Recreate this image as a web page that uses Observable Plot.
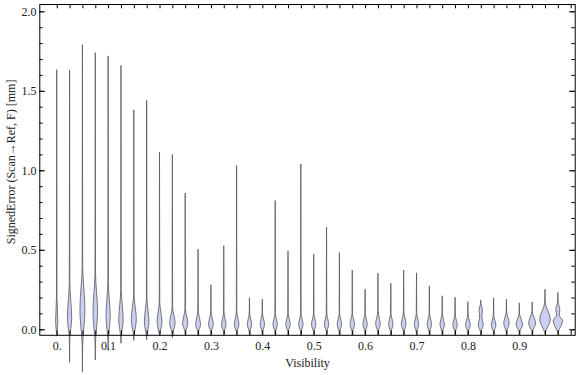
<!DOCTYPE html>
<html><head><meta charset="utf-8">
<script src="https://cdn.jsdelivr.net/npm/d3@7"></script>
<script src="https://cdn.jsdelivr.net/npm/@observablehq/plot@0.6"></script>
<style>html,body{margin:0;padding:0;background:#fff}</style>
</head><body><div id="chart"></div>
<script>
// ---- data ----
const visibility = [0, 0.025, 0.05, 0.075, 0.1, 0.125, 0.15, 0.175, 0.2, 0.225,
  0.25, 0.275, 0.3, 0.325, 0.35, 0.375, 0.4, 0.425, 0.45, 0.475,
  0.5, 0.525, 0.55, 0.575, 0.6, 0.625, 0.65, 0.675, 0.7, 0.725,
  0.75, 0.775, 0.8, 0.825, 0.85, 0.875, 0.9, 0.925, 0.95, 0.975];
const maxError = [1.633, 1.63, 1.79, 1.74, 1.72, 1.66, 1.38, 1.44, 1.115, 1.10,
  0.857, 0.504, 0.281, 0.526, 1.03, 0.199, 0.19, 0.81, 0.493, 1.039,
  0.472, 0.642, 0.482, 0.373, 0.252, 0.353, 0.29, 0.373, 0.355, 0.273,
  0.211, 0.202, 0.174, 0.185, 0.198, 0.19, 0.166, 0.172, 0.252, 0.232];
const minError = [-0.04, -0.205, -0.265, -0.19, -0.13, -0.085, -0.067, -0.063, -0.04, -0.05,
  -0.035, -0.035, -0.035, -0.035, -0.035, -0.035, -0.035, -0.035, -0.035, -0.035,
  -0.035, -0.035, -0.035, -0.035, -0.035, -0.035, -0.035, -0.035, -0.035, -0.035,
  -0.035, -0.035, -0.035, -0.035, -0.035, -0.035, -0.035, -0.035, -0.03, -0.03];
const modeError = [0.05, 0.07, 0.12, 0.11, 0.08, 0.06, 0.06, 0.045, 0.048, 0.04,
  0.035, 0.028, 0.03, 0.025, 0.03, 0.03, 0.03, 0.03, 0.03, 0.03,
  0.03, 0.03, 0.03, 0.03, 0.03, 0.035, 0.03, 0.035, 0.03, 0.03,
  0.027, 0.025, 0.027, 0.027, 0.022, 0.038, 0.027, 0.038, 0.063, 0.054];
const modeDensity = [1.1, 2.1, 2.5, 2.3, 2.1, 2.2, 2.5, 2.3, 2.4, 2.7,
  2.6, 2.4, 2.4, 2.2, 2.3, 2.2, 2.2, 2.2, 2.2, 2.2,
  2.2, 2.2, 2.2, 2.2, 2.1, 2.3, 2.2, 2.3, 2.2, 2.2,
  2.2, 2.2, 2.3, 2.5, 2.3, 2.7, 3.2, 3.5, 5.3, 4.7];
const bodyTop = [0.2, 0.3, 0.4, 0.36, 0.3, 0.25, 0.22, 0.2, 0.17, 0.14,
  0.13, 0.12, 0.11, 0.11, 0.11, 0.1, 0.1, 0.1, 0.1, 0.1,
  0.1, 0.1, 0.1, 0.1, 0.1, 0.11, 0.1, 0.11, 0.1, 0.1,
  0.1, 0.09, 0.09, 0.16, 0.09, 0.11, 0.1, 0.11, 0.17, 0.17];
const bodyBottom = [-0.02, -0.06, -0.1, -0.08, -0.06, -0.05, -0.04, -0.04, -0.03, -0.03,
  -0.015, -0.015, -0.015, -0.015, -0.015, -0.015, -0.015, -0.015, -0.015, -0.015,
  -0.015, -0.015, -0.015, -0.015, -0.015, -0.015, -0.015, -0.015, -0.015, -0.015,
  -0.015, -0.015, -0.015, -0.015, -0.015, -0.015, -0.015, -0.015, -0.022, -0.02];
const secondModeError = {33: 0.12, 39: 0.125};
const secondModeDensity = {33: 1.7, 39: 2.0};
const xTickPositions = [0, 0.025, 0.05, 0.075, 0.1, 0.125, 0.15, 0.175, 0.2, 0.225,
  0.25, 0.275, 0.3, 0.325, 0.35, 0.375, 0.4, 0.425, 0.45, 0.475,
  0.5, 0.525, 0.55, 0.575, 0.6, 0.625, 0.65, 0.675, 0.7, 0.725,
  0.75, 0.775, 0.8, 0.825, 0.85, 0.875, 0.9, 0.925, 0.95, 0.975, 1.0];
const xLabelTicks = [0, 0.1, 0.2, 0.3, 0.4, 0.5, 0.6, 0.7, 0.8, 0.9];
const yMajorTicks = [0, 0.5, 1, 1.5, 2];
const yMinorTicks = [0, 0.1, 0.2, 0.3, 0.4, 0.5, 0.6, 0.7, 0.8, 0.9, 1.0,
  1.1, 1.2, 1.3, 1.4, 1.5, 1.6, 1.7, 1.8, 1.9, 2.0];

// ---- layout ----
const W = 576, H = 375, mL = 39.3, mR = 1.3, mT = 4, mB = 40.2;
const plotW = W - mL - mR, plotH = H - mT - mB;
const xDomain = [-0.0339, 1.0078], yDomain = [-0.0346, 2.046];
const pxX = (xDomain[1] - xDomain[0]) / plotW;
const tail = 0.25;

const rows = [];
visibility.forEach((v, i) => {
  const knots = [[minError[i], 0], [bodyBottom[i], tail], [modeError[i], modeDensity[i]]];
  if (secondModeError[i] != null) {
    knots.push([(modeError[i] + secondModeError[i]) / 2, secondModeDensity[i] * 0.65]);
    knots.push([secondModeError[i], secondModeDensity[i]]);
  }
  knots.push([bodyTop[i], tail], [maxError[i], 0]);
  for (const [y, w] of knots) rows.push({id: i, y, x1: v - w * pxX, x2: v + w * pxX});
});

const chart = Plot.plot({
  width: W, height: H,
  marginLeft: mL, marginRight: mR, marginTop: mT, marginBottom: mB,
  style: {fontFamily: "'Liberation Serif', 'DejaVu Serif', serif", fontSize: "12px", color: "#222", background: "#fff"},
  x: {domain: xDomain, axis: null},
  y: {domain: yDomain, axis: null},
  marks: [
    Plot.areaX(rows, {y: "y", x1: "x1", x2: "x2", z: "id", curve: "monotone-y",
      fill: "#cbd0f3", stroke: "#5a5a5a", strokeOpacity: 0.9, strokeWidth: 0.9}),
    Plot.tickX(xTickPositions, {x: d => d, insetTop: plotH - 4.3, stroke: "black"}),
    Plot.tickX(xTickPositions, {x: d => d, insetBottom: plotH - 4.3, stroke: "black"}),
    Plot.tickY(yMinorTicks, {y: d => d, insetRight: plotW - 3.4, stroke: "black"}),
    Plot.tickY(yMinorTicks, {y: d => d, insetLeft: plotW - 3.4, stroke: "black"}),
    Plot.tickY(yMajorTicks, {y: d => d, insetRight: plotW - 5.7, stroke: "black"}),
    Plot.tickY(yMajorTicks, {y: d => d, insetLeft: plotW - 5.7, stroke: "black"}),
    Plot.frame({stroke: "black", strokeWidth: 1}),
    Plot.axisX(xLabelTicks, {tickSize: 0, tickPadding: 6.5, tickFormat: d => d === 0 ? "0." : String(d), label: null, fontSize: 12}),
    Plot.axisY(yMajorTicks, {tickSize: 0, tickPadding: 3.3, tickFormat: d3.format(".1f"), label: null, fontSize: 12}),
    Plot.text(["Visibility"], {text: d => d, frameAnchor: "bottom", dy: 32, fontSize: 12}),
    Plot.text(["SignedError (Scan\u2192Ref, F) [mm]"], {text: d => d, frameAnchor: "left", textAnchor: "middle", rotate: -90, dx: -29, dy: -8, fontSize: 12})
  ]
});
document.getElementById("chart").appendChild(chart);
</script>
</body></html>
